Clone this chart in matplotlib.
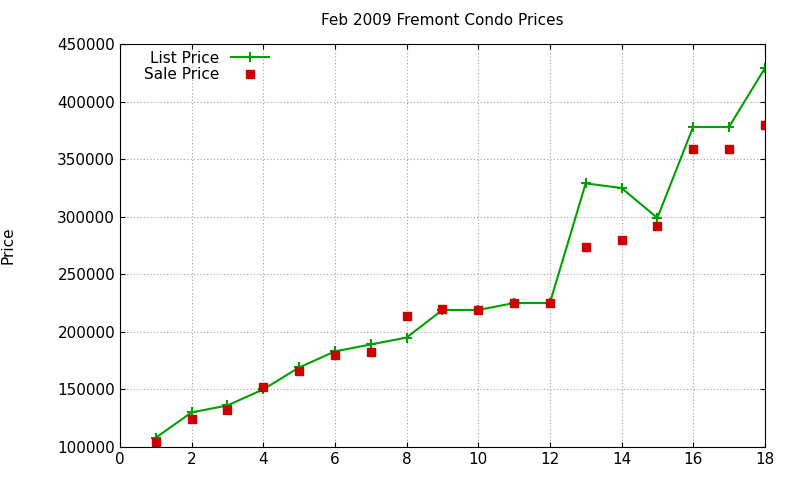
import matplotlib
matplotlib.use("Agg")
import matplotlib.pyplot as plt

units = list(range(1, 19))
list_price = [108000,130000,136000,150000,169000,183000,189000,195000,219000,219000,
              225000,225000,329000,325000,299000,378000,378000,429000]
sale_price = [104000,124000,132000,152000,166000,180000,182500,214000,220000,219000,
              225000,225000,274000,280000,292000,359000,359000,380000]

fig = plt.figure(figsize=(8, 4.8), dpi=100)
ax = fig.add_axes([0.15, 0.069, 0.806, 0.839])
ax.plot(units, list_price, color="#00a000", lw=1.5, marker="+", ms=7, mew=1.5, label="List Price")
ax.plot(units, sale_price, ls="none", color="#cc0000", marker="s", ms=5.5, label="Sale Price")
ax.set_xlim(0, 18)
ax.set_ylim(100000, 450000)
ax.set_xticks(range(0, 19, 2))
ax.set_yticks(range(100000, 450001, 50000))
ax.grid(True, ls=(0, (1, 2)), color="#a0a0a0", lw=0.8)
ax.tick_params(direction="in", labelsize=11, top=True, right=True)
ax.set_title("Feb 2009 Fremont Condo Prices", fontsize=11, pad=14)
ax.set_ylabel("Price", fontsize=11, labelpad=30)
ax.legend(loc="upper left", frameon=False, markerfirst=False, fontsize=11,
          bbox_to_anchor=(0.02, 1.01), handlelength=2.5, borderpad=0.2, labelspacing=0.1)
fig.savefig("out.png")
